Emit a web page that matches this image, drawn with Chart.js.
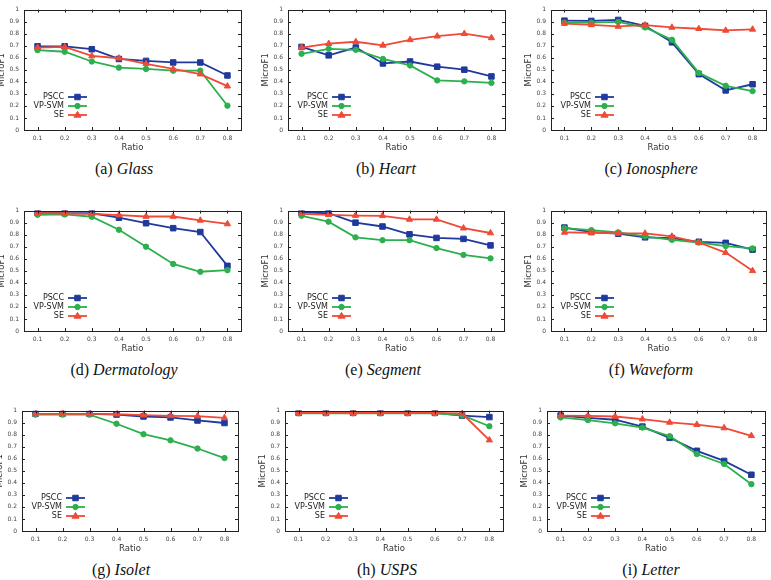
<!DOCTYPE html>
<html>
<head>
<meta charset="utf-8">
<script src="https://cdn.jsdelivr.net/npm/chart.js@4.4.1/dist/chart.umd.min.js"></script>
<style>
  html, body { margin:0; padding:0; background:#fff; }
  body { position:relative; width:771px; height:580px; overflow:hidden; }
  canvas { position:absolute; }
  .cap { position:absolute; font-family:'Liberation Serif','DejaVu Serif',serif; font-size:16px; color:#111; white-space:nowrap; transform:translate(-50%,-50%); }
  .cap i { font-style:italic; }
</style>
</head>
<body>
<script>
const ratios = ['0.1','0.2','0.3','0.4','0.5','0.6','0.7','0.8'];
const seriesNames = ['PSCC','VP-SVM','SE'];
const yTicks = [0,0.1,0.2,0.3,0.4,0.5,0.6,0.7,0.8,0.9,1];

const glassPSCC = [0.695,0.695,0.671,0.590,0.574,0.561,0.561,0.453];
const glassSVM  = [0.663,0.650,0.569,0.518,0.507,0.493,0.493,0.202];
const glassSE   = [0.685,0.690,0.615,0.596,0.550,0.507,0.464,0.364];

const heartPSCC = [0.690,0.620,0.685,0.553,0.569,0.526,0.501,0.445];
const heartSVM  = [0.633,0.674,0.666,0.590,0.536,0.412,0.404,0.391];
const heartSE   = [0.685,0.717,0.733,0.703,0.749,0.779,0.800,0.765];

const ionoPSCC = [0.908,0.906,0.914,0.865,0.728,0.464,0.329,0.380];
const ionoSVM  = [0.892,0.892,0.898,0.852,0.749,0.474,0.367,0.323];
const ionoSE   = [0.884,0.873,0.860,0.871,0.852,0.841,0.827,0.836];

const dermPSCC = [0.981,0.978,0.978,0.941,0.895,0.854,0.822,0.541];
const dermSVM  = [0.965,0.968,0.949,0.841,0.700,0.557,0.492,0.505];
const dermSE   = [0.981,0.976,0.973,0.962,0.951,0.951,0.919,0.889];

const segPSCC = [0.986,0.978,0.900,0.868,0.803,0.773,0.765,0.711];
const segSVM  = [0.957,0.908,0.778,0.754,0.754,0.689,0.632,0.603];
const segSE   = [0.973,0.965,0.959,0.957,0.927,0.927,0.854,0.814];

const wavePSCC = [0.859,0.822,0.808,0.778,0.772,0.741,0.732,0.676];
const waveSVM  = [0.854,0.838,0.819,0.786,0.757,0.735,0.705,0.686];
const waveSE   = [0.819,0.816,0.811,0.811,0.786,0.735,0.651,0.500];

const isoPSCC = [0.973,0.973,0.973,0.967,0.951,0.943,0.918,0.897];
const isoSVM  = [0.967,0.967,0.967,0.891,0.804,0.753,0.685,0.606];
const isoSE   = [0.973,0.973,0.973,0.970,0.962,0.957,0.954,0.940];

const uspsPSCC = [0.981,0.981,0.981,0.981,0.981,0.981,0.959,0.946];
const uspsSVM  = [0.978,0.978,0.978,0.978,0.978,0.978,0.962,0.870];
const uspsSE   = [0.981,0.981,0.981,0.981,0.981,0.981,0.976,0.755];

const letPSCC = [0.959,0.940,0.924,0.867,0.774,0.666,0.582,0.467];
const letSVM  = [0.943,0.921,0.894,0.859,0.788,0.639,0.557,0.389];
const letSE   = [0.959,0.957,0.951,0.929,0.902,0.883,0.856,0.791];

const panels = [
  {tag:'(a)', name:'Glass',       data:[glassPSCC,glassSVM,glassSE], box:[24,7,241,130],    cap:[124,169]},
  {tag:'(b)', name:'Heart',       data:[heartPSCC,heartSVM,heartSE], box:[288,7,505,130],   cap:[386,169]},
  {tag:'(c)', name:'Ionosphere',  data:[ionoPSCC,ionoSVM,ionoSE],    box:[551,7,766,130],   cap:[651,169]},
  {tag:'(d)', name:'Dermatology', data:[dermPSCC,dermSVM,dermSE],    box:[24,208,241,331],  cap:[124,370]},
  {tag:'(e)', name:'Segment',     data:[segPSCC,segSVM,segSE],       box:[288,208,504,331], cap:[383,370]},
  {tag:'(f)', name:'Waveform',    data:[wavePSCC,waveSVM,waveSE],    box:[551,208,766,331], cap:[651,370]},
  {tag:'(g)', name:'Isolet',      data:[isoPSCC,isoSVM,isoSE],       box:[22,408,238,531],  cap:[121,570]},
  {tag:'(h)', name:'USPS',        data:[uspsPSCC,uspsSVM,uspsSE],    box:[285,408,503,531], cap:[387,570]},
  {tag:'(i)', name:'Letter',      data:[letPSCC,letSVM,letSE],       box:[547,408,765,531], cap:[651,570]}
];

const colors = ['#1f3a9c','#2cb04e','#f04a36'];
const styles = ['rect','circle','triangle'];
const radii = [3.9,2.7,3.6];
const orders = [2,1,0];

const axisFont = 'DejaVu Sans';
const YW = 30, XH = 24, PT = 6, PR = 6;

function shape(ctx, style, x, y, r){
  ctx.beginPath();
  if(style === 'rect'){
    const s = Math.SQRT1_2 * r;
    ctx.rect(x - s, y - s, 2*s, 2*s);
  } else if(style === 'circle'){
    ctx.arc(x, y, r, 0, Math.PI*2);
  } else {
    ctx.moveTo(x, y - r);
    ctx.lineTo(x + r, y + r*0.6);
    ctx.lineTo(x - r, y + r*0.6);
    ctx.closePath();
  }
  ctx.fill();
  ctx.stroke();
}

const framePlugin = {
  id:'frame',
  afterDatasetsDraw(chart){
    const {ctx, chartArea:a, scales} = chart;
    ctx.save();
    ctx.strokeStyle = '#222';
    ctx.lineWidth = 1;
    yTicks.forEach(v => {
      const y = Math.round(scales.y.getPixelForValue(v)) + 0.5;
      ctx.beginPath();
      ctx.moveTo(a.left, y); ctx.lineTo(a.left + 3, y);
      ctx.moveTo(a.right, y); ctx.lineTo(a.right - 3, y);
      ctx.stroke();
    });
    ratios.forEach((r, i) => {
      const x = Math.round(scales.x.getPixelForValue(i)) + 0.5;
      ctx.beginPath();
      ctx.moveTo(x, a.bottom); ctx.lineTo(x, a.bottom - 3);
      ctx.moveTo(x, a.top); ctx.lineTo(x, a.top + 3);
      ctx.stroke();
    });
    ctx.strokeRect(Math.round(a.left) + 0.5, Math.round(a.top) + 0.5, Math.round(a.right - a.left), Math.round(a.bottom - a.top));

    // legend in the lower left of the plot
    ctx.font = '8px ' + axisFont;
    ctx.textAlign = 'right';
    ctx.textBaseline = 'middle';
    seriesNames.forEach((name, i) => {
      const y = a.bottom - 33 + i * 9;
      ctx.fillStyle = '#222';
      ctx.fillText(name, a.left + 40, y);
      ctx.strokeStyle = colors[i];
      ctx.fillStyle = colors[i];
      ctx.lineWidth = 1.8;
      ctx.beginPath();
      ctx.moveTo(a.left + 44, y); ctx.lineTo(a.left + 63, y);
      ctx.stroke();
      ctx.lineWidth = 1;
      shape(ctx, styles[i], a.left + 53.5, y, radii[i]);
    });
    ctx.restore();
  }
};

panels.forEach(p => {
  const [l, t, r, b] = p.box;
  const cv = document.createElement('canvas');
  const w = (r - l) + YW + PR, h = (b - t) + PT + XH;
  cv.width = w; cv.height = h;
  cv.style.left = (l - YW) + 'px';
  cv.style.top = (t - PT) + 'px';
  cv.style.width = w + 'px'; cv.style.height = h + 'px';
  document.body.appendChild(cv);

  const cap = document.createElement('div');
  cap.className = 'cap';
  cap.style.left = p.cap[0] + 'px';
  cap.style.top = p.cap[1] + 'px';
  cap.innerHTML = p.tag + ' <i>' + p.name + '</i>';
  document.body.appendChild(cap);

  new Chart(cv, {
    type:'line',
    data:{
      labels:ratios,
      datasets:p.data.map((vals, i) => ({
        label:seriesNames[i],
        data:vals,
        borderColor:colors[i],
        backgroundColor:colors[i],
        borderWidth:1.8,
        pointStyle:styles[i],
        pointRadius:radii[i],
        pointBorderWidth:1,
        tension:0,
        order:orders[i]
      }))
    },
    options:{
      responsive:false,
      animation:false,
      devicePixelRatio:1,
      layout:{ padding:{ top:PT, right:PR, left:0, bottom:0 } },
      plugins:{ legend:{ display:false }, tooltip:{ enabled:false } },
      scales:{
        x:{
          type:'category',
          offset:true,
          grid:{ display:false, drawTicks:false },
          border:{ display:false },
          ticks:{ font:{ family:axisFont, size:6 }, color:'#444', padding:5, maxRotation:0, autoSkip:false },
          title:{ display:true, text:'Ratio', font:{ family:axisFont, size:8.5 }, color:'#333', padding:{ top:0, bottom:1 } },
          afterFit(s){ s.height = XH; }
        },
        y:{
          min:0, max:1,
          grid:{ display:false, drawTicks:false },
          border:{ display:false },
          afterBuildTicks(s){ s.ticks = yTicks.map(v => ({ value:v })); },
          ticks:{ font:{ family:axisFont, size:6 }, color:'#444', padding:5,
                  callback:v => String(Math.round(v * 10) / 10) },
          title:{ display:true, text:'MicroF1', font:{ family:axisFont, size:8.5 }, color:'#333', padding:{ top:2.5, bottom:0 } },
          afterFit(s){ s.width = YW; }
        }
      }
    },
    plugins:[framePlugin]
  });
});
</script>
</body>
</html>
